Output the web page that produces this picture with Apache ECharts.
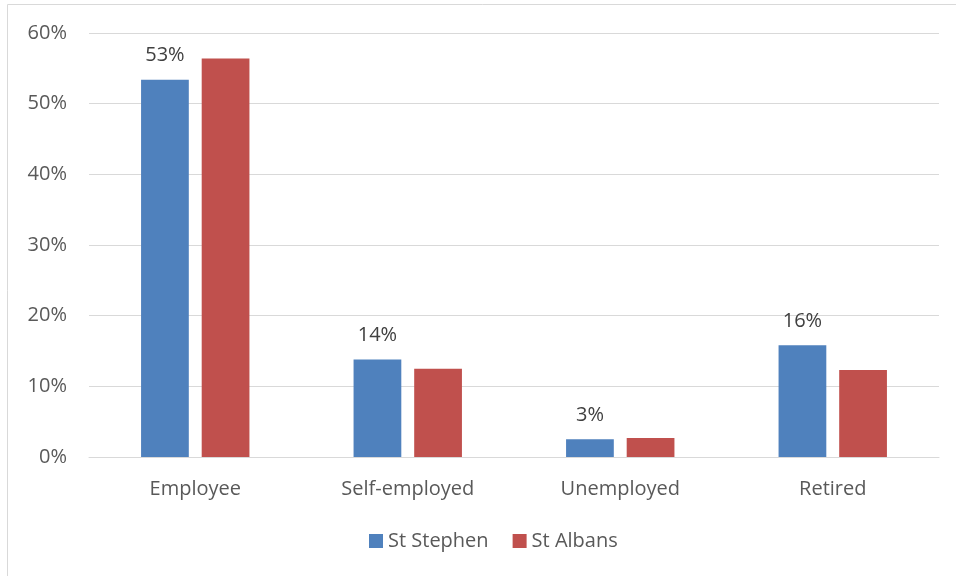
<!DOCTYPE html>
<html><head><meta charset="utf-8">
<script src="https://cdn.jsdelivr.net/npm/echarts@6/dist/echarts.min.js"></script>
<style>html,body{margin:0;padding:0;background:#fff}#c{width:956px;height:576px}</style>
</head><body><div id="c"></div>
<script>
const categories = ['Employee', 'Self-employed', 'Unemployed', 'Retired'];
const stStephen = [53.4, 13.8, 2.5, 15.8];
const stAlbans = [56.4, 12.5, 2.7, 12.3];
const yTicks = [0, 10, 20, 30, 40, 50, 60];

const FONT = 'Open Sans';
const FS = 20;
const TXT = '#595959';
const chart = echarts.init(document.getElementById('c'), null, {renderer: 'canvas'});
chart.setOption({
  animation: false,
  textStyle: {fontFamily: FONT},
  graphic: [{
    type: 'polyline', silent: true,
    shape: {points: [[7.5, 600], [7.5, 4.5], [960, 4.5]]},
    style: {stroke: '#d9d9d9', lineWidth: 1, fill: null}
  }],
  grid: {left: 89, right: 17, top: 33, bottom: 119, containLabel: false},
  legend: {
    bottom: 20, left: 364, itemWidth: 14, itemHeight: 14, itemGap: 24,
    icon: 'rect',
    textStyle: {fontFamily: FONT, fontSize: FS, color: TXT},
    data: ['St Stephen', 'St Albans']
  },
  xAxis: {
    type: 'category', data: categories,
    axisLine: {lineStyle: {color: '#d9d9d9', width: 1}},
    axisTick: {show: false},
    axisLabel: {fontFamily: FONT, fontSize: FS, color: TXT, margin: 22}
  },
  yAxis: {
    type: 'value', min: yTicks[0], max: yTicks[yTicks.length - 1], interval: 10,
    axisLine: {show: false}, axisTick: {show: false},
    splitLine: {lineStyle: {color: '#d9d9d9', width: 1}},
    axisLabel: {fontFamily: FONT, fontSize: FS, color: TXT, margin: 22, formatter: v => v + '%'}
  },
  series: [{
    name: 'St Stephen', type: 'bar', data: stStephen,
    barGap: '27%', barCategoryGap: '49%',
    itemStyle: {color: '#4f81bd'},
    label: {show: true, position: 'top', distance: 14, fontFamily: FONT, fontSize: FS, color: '#404040',
      formatter: p => Math.round(p.value) + '%'}
  }, {
    name: 'St Albans', type: 'bar', data: stAlbans,
    itemStyle: {color: '#c0504d'}
  }]
});
</script></body></html>
